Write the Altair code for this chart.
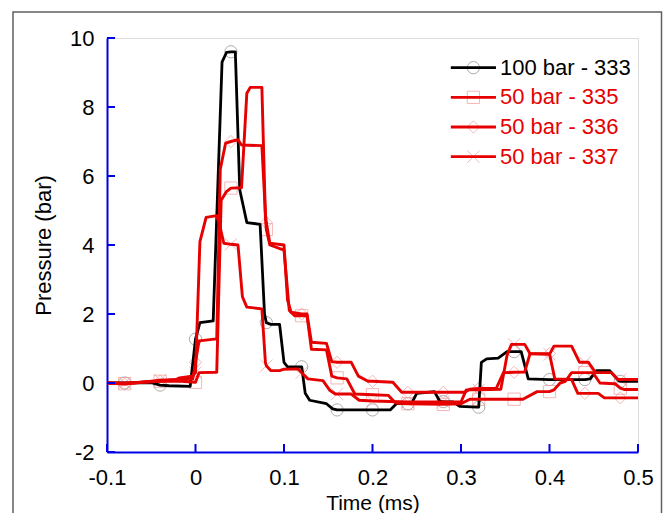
import altair as alt
import numpy as np
import pandas as pd

# ---------------- data ----------------
NAMES = ["100 bar - 333", "50 bar - 335", "50 bar - 336", "50 bar - 337"]

T333 = [-0.1, -0.08, -0.05, -0.04, -0.03, -0.006, 0.0, 0.005, 0.02, 0.03, 0.035, 0.04, 0.045,
        0.05, 0.058, 0.073, 0.078, 0.08, 0.085, 0.095, 0.1, 0.104, 0.12, 0.124, 0.129, 0.148,
        0.155, 0.16, 0.2, 0.22, 0.227, 0.24, 0.244, 0.25, 0.27, 0.276, 0.28, 0.291, 0.299,
        0.318, 0.32, 0.323, 0.329, 0.342, 0.352, 0.36, 0.368, 0.376, 0.4, 0.44, 0.446, 0.453,
        0.468, 0.478, 0.48, 0.5]
P333 = [0.0, 0.0, 0.01, -0.06, -0.08, -0.1, 1.27, 1.75, 1.8, 9.3, 9.58, 9.6, 9.6,
        5.6, 4.65, 4.6, 2.0, 1.75, 1.7, 1.7, 0.6, 0.47, 0.47, -0.3, -0.5, -0.6,
        -0.75, -0.78, -0.78, -0.78, -0.6, -0.6, -0.6, -0.3, -0.25, -0.53, -0.54, -0.55, -0.68,
        -0.7, -0.7, 0.6, 0.7, 0.72, 0.91, 0.91, 0.91, 0.12, 0.1, 0.1, 0.12, 0.36,
        0.36, 0.07, 0.05, 0.05]

T335 = [-0.1, -0.08, -0.06, -0.04, -0.02, 0.0, 0.004, 0.024, 0.029, 0.035, 0.04, 0.052, 0.058,
        0.062, 0.075, 0.079, 0.08, 0.084, 0.1, 0.106, 0.112, 0.12, 0.126, 0.131, 0.148, 0.154,
        0.16, 0.171, 0.18, 0.2, 0.218, 0.226, 0.24, 0.28, 0.3, 0.31, 0.32, 0.36, 0.37, 0.386,
        0.4, 0.405, 0.412, 0.418, 0.425, 0.44, 0.449, 0.457, 0.474, 0.48, 0.485, 0.5]
P335 = [0.0, -0.02, 0.03, 0.05, 0.06, 0.02, 0.3, 0.31, 5.3, 5.55, 5.65, 5.66, 8.4,
        8.57, 8.57, 4.8, 4.45, 4.0, 3.85, 2.1, 1.95, 1.95, 1.95, 0.98, 0.96, 0.2,
        0.15, 0.12, -0.32, -0.34, -0.36, -0.58, -0.6, -0.62, -0.6, -0.47, -0.47, -0.47, -0.47, -0.25,
        -0.25, -0.2, 0.0, 0.05, 0.3, 0.3, 0.3, 0.0, -0.02, -0.15, -0.19, -0.19]

T336 = [-0.1, -0.08, -0.06, -0.04, -0.02, -0.003, 0.0, 0.004, 0.024, 0.028, 0.034, 0.04, 0.048,
        0.052, 0.075, 0.079, 0.08, 0.084, 0.1, 0.104, 0.108, 0.12, 0.126, 0.131, 0.148, 0.154,
        0.16, 0.176, 0.184, 0.195, 0.2, 0.223, 0.233, 0.24, 0.28, 0.304, 0.31, 0.32, 0.34, 0.348,
        0.36, 0.372, 0.378, 0.4, 0.406, 0.425, 0.432, 0.44, 0.455, 0.462, 0.48, 0.5]
P336 = [0.0, -0.03, 0.02, 0.05, 0.1, 0.12, 0.6, 1.22, 1.28, 6.2, 6.95, 7.0, 7.05,
        6.9, 6.88, 4.9, 4.65, 4.05, 4.0, 2.4, 2.05, 2.0, 2.0, 1.18, 1.15, 0.62,
        0.6, 0.6, 0.2, 0.05, 0.05, 0.02, -0.27, -0.27, -0.27, -0.27, -0.18, -0.16, -0.15, 0.3,
        0.31, 0.32, 0.85, 0.85, 0.12, 0.1, -0.3, -0.3, -0.3, -0.43, -0.43, -0.43]

T337 = [-0.1, -0.08, -0.06, -0.04, -0.022, -0.018, -0.004, 0.0, 0.005, 0.012, 0.024, 0.028, 0.032,
        0.04, 0.048, 0.053, 0.058, 0.075, 0.079, 0.08, 0.085, 0.095, 0.1, 0.116, 0.12, 0.127,
        0.144, 0.152, 0.158, 0.16, 0.176, 0.185, 0.2, 0.24, 0.28, 0.3, 0.306, 0.32, 0.345, 0.352,
        0.357, 0.36, 0.372, 0.378, 0.4, 0.405, 0.425, 0.434, 0.44, 0.444, 0.452, 0.47, 0.477,
        0.48, 0.5]
P337 = [0.0, 0.0, 0.02, 0.08, 0.1, 0.15, 0.2, 0.3, 4.1, 4.8, 4.85, 4.5, 4.05,
        4.02, 4.0, 2.5, 2.2, 2.15, 0.6, 0.5, 0.36, 0.36, 0.4, 0.41, 0.3, 0.12,
        0.07, -0.22, -0.32, -0.32, -0.32, -0.5, -0.52, -0.55, -0.55, -0.55, -0.2, -0.2, -0.18, 0.8,
        1.12, 1.12, 1.12, 0.85, 0.83, 1.07, 1.07, 0.6, 0.6, 0.6, 0.3, 0.3, 0.1,
        0.1, 0.1]

X_TICKS = [-0.1, 0, 0.1, 0.2, 0.3, 0.4, 0.5]
Y_TICKS = [-2, 0, 2, 4, 6, 8, 10]
MARKER_STEP = 0.04

# ---------------- styling ----------------
LINE_COLORS = ["#000000", "#e60000", "#e60000", "#e60000"]
MARKER_COLORS = ["#8a8a8a", "#f09a9a", "#f09a9a", "#f09a9a"]
SHAPES = ["circle", "square", "diamond", "M-1,-1L1,1M-1,1L1,-1"]
AXIS_BLUE = "#0000e6"
FONT = "Liberation Sans"
FS = 22

W, H = 531, 414
PAD = {"left": 99, "top": 30, "right": 25, "bottom": 61}

rows = []
for i, (name, ts, ps) in enumerate(zip(NAMES, [T333, T335, T336, T337], [P333, P335, P336, P337])):
    for j, (t, p) in enumerate(zip(ts, ps)):
        k = round(t / MARKER_STEP)
        mk = abs(t - k * MARKER_STEP) < 1e-9 and t > -0.1 + 1e-9
        rows.append(dict(series=name, t=t, p=p, idx=j, marker=mk,
                         lc=LINE_COLORS[i], mc=MARKER_COLORS[i], shape=SHAPES[i]))
df = pd.DataFrame(rows)
markers = df[df["marker"]]

xscale = alt.Scale(domain=[-0.1, 0.5], nice=False, zero=False)
yscale = alt.Scale(domain=[-2, 10], nice=False, zero=False)

label_expr = "datum.value < 0 ? '-' + format(-datum.value, '~g') : format(datum.value, '~g')"

xaxis = alt.Axis(values=X_TICKS, title="Time (ms)", grid=False, ticks=False, tickSize=0,
                 domainColor=AXIS_BLUE, domainWidth=2, labelColor="black", labelFontSize=FS,
                 labelFont=FONT, labelPadding=15, labelExpr=label_expr, labelFlush=False,
                 titleFont=FONT, titleFontSize=21, titleFontWeight="normal", titleColor="black",
                 titleY=57, titleBaseline="alphabetic")
yaxis = alt.Axis(values=Y_TICKS, title="Pressure (bar)", grid=False, ticks=False, tickSize=0,
                 domainColor=AXIS_BLUE, domainWidth=2, labelColor="black", labelFontSize=FS,
                 labelFont=FONT, labelPadding=13, labelExpr=label_expr, labelFlush=False,
                 titleFont=FONT, titleFontSize=FS, titleFontWeight="normal", titleColor="black",
                 titlePadding=14)

base_x = alt.X("t:Q", scale=xscale, axis=xaxis)
base_y = alt.Y("p:Q", scale=yscale, axis=yaxis)

pts = alt.Chart(markers).mark_point(filled=False, strokeWidth=1, size=150).encode(
    x=alt.X("t:Q", scale=xscale), y=alt.Y("p:Q", scale=yscale),
    color=alt.Color("mc:N", scale=None), shape=alt.Shape("shape:N", scale=None))

black_line = alt.Chart(df[df["series"] == NAMES[0]]).mark_line(
    strokeWidth=2.8, strokeJoin="round", color="#000000").encode(
    x=base_x, y=base_y, order="idx:Q")

red_lines = alt.Chart(df[df["series"] != NAMES[0]]).mark_line(
    strokeWidth=2.9, strokeJoin="round", color="#e60000").encode(
    x=alt.X("t:Q", scale=xscale), y=alt.Y("p:Q", scale=yscale),
    detail="series:N", order="idx:Q")

# ticks pointing inward
xt = alt.Chart(pd.DataFrame({"v": X_TICKS})).mark_rule(color=AXIS_BLUE, strokeWidth=2).encode(
    x=alt.X("v:Q", scale=xscale), y=alt.value(H), y2=alt.value(H - 8))
yt = alt.Chart(pd.DataFrame({"v": Y_TICKS})).mark_rule(color=AXIS_BLUE, strokeWidth=2).encode(
    y=alt.Y("v:Q", scale=yscale), x=alt.value(0), x2=alt.value(8))

# legend
LEG_X0, LEG_X1, LEG_TX = 0.2885, 0.3395, 0.344
LEG_Y0, LEG_DY = 9.14, 0.86
leg = pd.DataFrame({
    "label": NAMES,
    "lc": LINE_COLORS,
    "mc": MARKER_COLORS,
    "shape": SHAPES,
})
leg["y"] = [LEG_Y0 - i * LEG_DY for i in range(len(NAMES))]
leg["x0"] = LEG_X0
leg["x1"] = LEG_X1
leg["xm"] = (LEG_X0 + LEG_X1) / 2
leg["tx"] = LEG_TX

leg_pts = alt.Chart(leg).mark_point(filled=False, strokeWidth=1, size=150).encode(
    x=alt.X("xm:Q", scale=xscale), y=alt.Y("y:Q", scale=yscale),
    color=alt.Color("mc:N", scale=None), shape=alt.Shape("shape:N", scale=None))
leg_lines = alt.Chart(leg).mark_rule(strokeWidth=2.8).encode(
    x=alt.X("x0:Q", scale=xscale), x2="x1:Q", y=alt.Y("y:Q", scale=yscale),
    color=alt.Color("lc:N", scale=None))
leg_text = alt.Chart(leg).mark_text(align="left", baseline="middle", font=FONT, fontSize=FS).encode(
    x=alt.X("tx:Q", scale=xscale), y=alt.Y("y:Q", scale=yscale), text="label:N",
    color=alt.Color("lc:N", scale=None))

# decorative outer frame (right edge at the svg's right side)
frame = alt.Chart(pd.DataFrame({"a": [0]})).mark_rect(
    fillOpacity=0, stroke="#606060", strokeWidth=1.5).encode(
    x=alt.value(-94), x2=alt.value(W + PAD["right"] - 1.5), y=alt.value(-26), y2=alt.value(H + 80))

chart = alt.layer(
    frame, pts, black_line, red_lines, xt, yt, leg_pts, leg_lines, leg_text
).properties(
    width=W, height=H,
    padding=PAD,
    autosize=alt.AutoSizeParams(type="none"),
).configure_view(stroke=None).configure(background="white")

chart.save("out.html", embed_options={"renderer": "svg", "actions": False})
